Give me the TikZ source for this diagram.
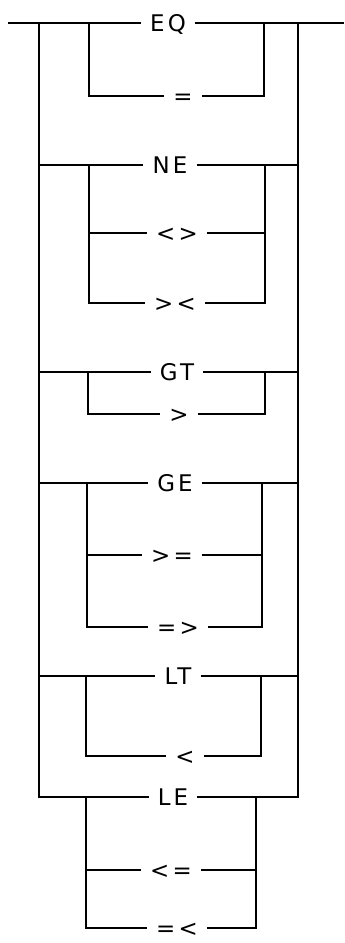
\documentclass[tikz,border=0pt]{standalone}
\usepackage{fontspec}
\newfontfamily\diagfont[LetterSpace=14]{DejaVu Sans}
\begin{document}
\begin{tikzpicture}[x=1bp,y=-1bp,line width=2.3bp,line join=miter,
  lbl/.style={font=\diagfont\fontsize{23}{23}\selectfont,inner xsep=8bp,inner ysep=0pt,text height=16.5bp,text depth=0pt}]
\useasboundingbox (0,0) rectangle (344,943);
% main line
\coordinate (s) at (8,23);
\coordinate (e) at (344,23);
\coordinate (ol) at (39,23);
\coordinate (or) at (298,23);
% labels
\node[lbl] (eq) at (168,23) {EQ};
\node[lbl] (eqa) at (183,96) {=};
\node[lbl] (ne) at (170,165) {NE};
\node[lbl] (nea) at (177,233) {<>};
\node[lbl] (neb) at (175,303) {><};
\node[lbl] (gt) at (177,372) {GT};
\node[lbl] (gta) at (179,414) {>};
\node[lbl] (ge) at (175,483) {GE};
\node[lbl] (gea) at (172,555) {>=};
\node[lbl] (geb) at (178,627) {=>};
\node[lbl] (lt) at (178,676) {LT};
\node[lbl] (lta) at (185,756) {<};
\node[lbl] (le) at (173,797) {LE};
\node[lbl] (lea) at (171,870) {<=};
\node[lbl] (leb) at (177,928) {=<};
% bracket tops
\coordinate (eqL) at (89,23);  \coordinate (eqR) at (264,23);
\coordinate (neL) at (89,165); \coordinate (neR) at (265,165);
\coordinate (gtL) at (88,372); \coordinate (gtR) at (265,372);
\coordinate (geL) at (87,483); \coordinate (geR) at (262,483);
\coordinate (ltL) at (86,676); \coordinate (ltR) at (261,676);
\coordinate (leL) at (86,797); \coordinate (leR) at (256,797);
% main line through EQ
\draw (s) -- (eq.west);
\draw (eq.east) -- (e);
% outer frame ending in LE
\draw (ol) |- (le.west);
\draw (le.east) -| (or);
% outer alternatives
\foreach \n in {ne,gt,ge,lt}{
  \draw (ol |- \n.west) -- (\n.west);
  \draw (\n.east) -- (or |- \n.east);
}
% inner brackets, two rows
\foreach \g/\a in {eq/eqa,gt/gta,lt/lta}{
  \draw (\g L) |- (\a.west);
  \draw (\a.east) -| (\g R);
}
% inner brackets, three rows
\foreach \g/\a/\b in {ne/nea/neb,ge/gea/geb,le/lea/leb}{
  \draw (\g L) |- (\b.west);
  \draw (\b.east) -| (\g R);
  \draw (\g L |- \a.west) -- (\a.west);
  \draw (\a.east) -- (\g R |- \a.east);
}
\end{tikzpicture}
\end{document}
